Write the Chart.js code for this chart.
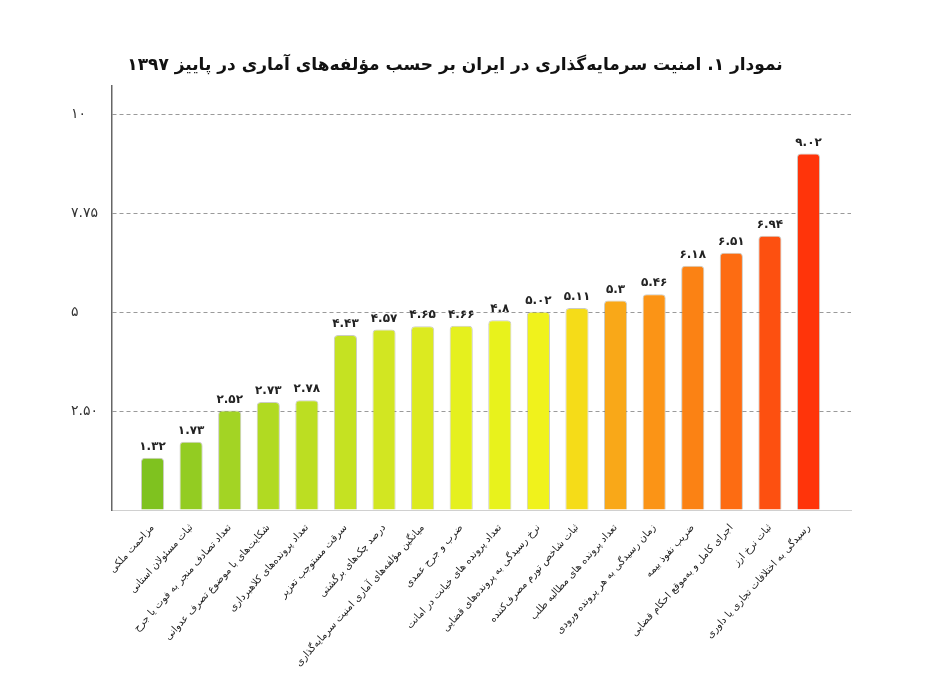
<!DOCTYPE html>
<html><head><meta charset="utf-8">
<script src="https://cdn.jsdelivr.net/npm/chart.js@4.4.1/dist/chart.umd.min.js"></script>
<style>html,body{margin:0;padding:0;background:#fff;} canvas{display:block;direction:rtl;}</style>
</head><body>
<canvas id="c" width="945" height="675" dir="rtl"></canvas>
<script>
const chartTitle = 'نمودار ۱. امنیت سرمایه\u200cگذاری در ایران بر حسب مؤلفه\u200cهای آماری در پاییز ۱۳۹۷';
const categories = [
  'مزاحمت ملکی',
  'ثبات مسئولان استانی',
  'تعداد تصادف منجر به فوت یا جرح',
  'شکایت\u200cهای با موضوع تصرف عدوانی',
  'تعداد پرونده\u200cهای کلاهبرداری',
  'سرقت مستوجب تعزیر',
  'درصد چک\u200cهای برگشتی',
  'میانگین مؤلفه\u200cهای آماری امنیت سرمایه\u200cگذاری',
  'ضرب و جرح عمدی',
  'تعداد پرونده های خیانت در امانت',
  'نرخ رسیدگی به پرونده\u200cهای قضایی',
  'ثبات شاخص تورم مصرف\u200cکننده',
  'تعداد پرونده های مطالبه طلب',
  'زمان رسیدگی به هر پرونده ورودی',
  'ضریب نفوذ بیمه',
  'اجرای کامل و به\u200cموقع احکام قضایی',
  'ثبات نرخ ارز',
  'رسیدگی به اختلافات تجاری یا داوری'
];
const values = [1.32, 1.73, 2.52, 2.73, 2.78, 4.43, 4.57, 4.65, 4.66, 4.8, 5.02, 5.11, 5.3, 5.46, 6.18, 6.51, 6.94, 9.02];
const barColors = ['#7fc21f','#93cc22','#a3d424','#b1da22','#bcde22','#c5e222','#d2e622','#dcea20','#e5f01e',
  '#e8f21c','#f0f21c','#f5dc18','#f9a818','#fb9416','#fb8214','#fd6c12','#fd5010','#ff340a'];
const yTickValues = [0, 2.5, 5, 7.5, 10];
const yTickLabels = ['', '۲.۵۰', '۵', '۷.۷۵', '۱۰'];

const FONT = "'DejaVu Sans', sans-serif";
const toFa = s => String(s).replace(/\d/g, d => '۰۱۲۳۴۵۶۷۸۹'[d]);

const labelPlugin = {
  id: 'valueLabels',
  afterDatasetsDraw(chart) {
    const ctx = chart.ctx;
    const meta = chart.getDatasetMeta(0);
    ctx.save();
    ctx.font = "bold 12px " + FONT;
    ctx.fillStyle = '#222';
    ctx.textAlign = 'center';
    ctx.textBaseline = 'bottom';
    meta.data.forEach((el, i) => {
      ctx.fillText(toFa(values[i]), el.x, el.y - 5);
    });
    ctx.restore();
  }
};
const titlePlugin = {
  id: 'customTitle',
  afterDraw(chart) {
    const ctx = chart.ctx;
    ctx.save();
    ctx.font = "bold 17px " + FONT;
    ctx.fillStyle = '#111';
    ctx.textAlign = 'center';
    ctx.textBaseline = 'middle';
    ctx.fillText(chartTitle, 455, 66);
    ctx.restore();
  }
};

new Chart(document.getElementById('c'), {
  type: 'bar',
  data: {
    labels: categories,
    datasets: [{
      data: values,
      backgroundColor: barColors,
      borderColor: 'rgba(110,110,90,0.35)',
      borderWidth: 1,
      borderSkipped: 'bottom',
      borderRadius: {topLeft: 4, topRight: 4, bottomLeft: 0, bottomRight: 0},
      categoryPercentage: 0.8,
      barPercentage: 0.75
    }]
  },
  options: {
    responsive: false,
    animation: false,
    layout: {padding: {top: 86, left: 71, right: 94, bottom: 0}},
    plugins: {legend: {display: false}, tooltip: {enabled: false}, title: {display: false}},
    scales: {
      x: {
        offset: true,
        grid: {display: false},
        border: {display: true, color: '#d0d0d0', width: 1},
        ticks: {
          autoSkip: false, minRotation: 48, maxRotation: 48, padding: 4,
          color: '#222', font: {family: FONT, size: 10}
        },
        afterBuildTicks: (s) => { s._startValue -= 0.55; s._valueRange += 1.151; },
        afterFit: (s) => { s.height = 165; }
      },
      y: {
        min: 0, max: 10.73,
        afterBuildTicks: (s) => { s.ticks = yTickValues.map(v => ({value: v})); },
        afterFit: (s) => { s.width = 41; },
        grid: {
          drawTicks: false,
          color: (c) => c.tick && c.tick.value === 0 ? 'rgba(0,0,0,0)' : '#9a9a9a',
          lineWidth: 1
        },
        border: {display: true, color: '#666', width: 1.5, dash: [4, 3]},
        ticks: {
          crossAlign: 'far', padding: 6, color: '#333',
          font: {family: FONT, size: 14},
          callback: (v) => { const i = yTickValues.indexOf(v); return i >= 0 ? yTickLabels[i] : ''; }
        }
      }
    }
  },
  plugins: [labelPlugin, titlePlugin]
});
</script>
</body></html>
